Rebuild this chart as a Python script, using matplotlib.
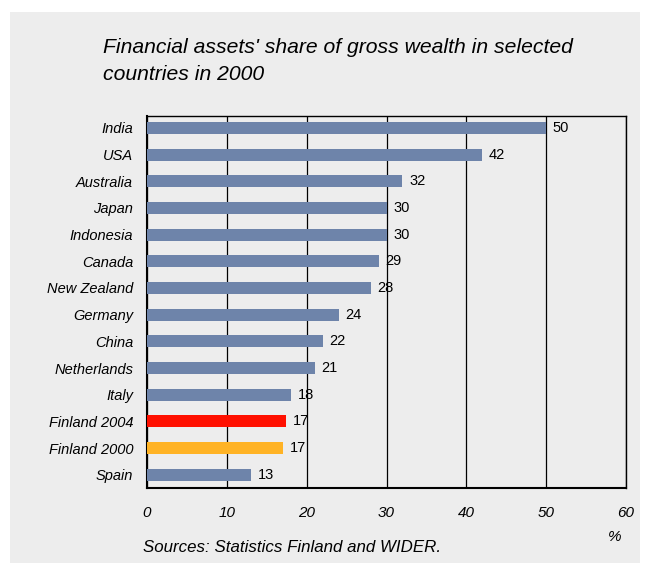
import matplotlib.pyplot as plt
from matplotlib.patches import Rectangle

countries = ['India', 'USA', 'Australia', 'Japan', 'Indonesia', 'Canada', 'New Zealand',
             'Germany', 'China', 'Netherlands', 'Italy', 'Finland 2004', 'Finland 2000', 'Spain']
values = [50, 42, 32, 30, 30, 29, 28, 24, 22, 21, 18, 17.4, 17.0, 13]
labels = ['50', '42', '32', '30', '30', '29', '28', '24', '22', '21', '18', '17', '17', '13']
colors = ['#6e84aa'] * 11 + ['#ff1000', '#ffb325', '#6e84aa']
ticks = [0, 10, 20, 30, 40, 50, 60]

plt.rcParams['font.family'] = ['Liberation Sans', 'DejaVu Sans']

fig = plt.figure(figsize=(6.54, 5.65), dpi=100)
fig.patches.append(Rectangle((10 / 654, 2 / 565), 630 / 654, 551 / 565,
                             transform=fig.transFigure, facecolor='#ededed',
                             edgecolor='none', zorder=-5))

ax = fig.add_axes([147 / 654, 1 - 488 / 565, 479 / 654, 372 / 565])
ax.set_facecolor('none')
y = list(range(len(countries)))
ax.barh(y, values, height=0.45, color=colors, zorder=3)
for yi, v, lab in zip(y, values, labels):
    ax.text(v + 0.85, yi, lab, va='center', ha='left', fontsize=10.5, zorder=4)

ax.set_xlim(0, 60)
ax.set_ylim(13.5, -0.45)
ax.set_yticks(y)
ax.set_yticklabels(countries, fontsize=10.5, style='italic')
ax.set_xticks(ticks)
ax.set_xticklabels([str(t) for t in ticks], fontsize=11, style='italic')
ax.tick_params(length=0)
ax.tick_params(axis='x', pad=13)
ax.tick_params(axis='y', pad=10)
ax.grid(axis='x', color='black', linewidth=0.9, zorder=1)
for s in ax.spines.values():
    s.set_linewidth(1.0)
    s.set_color('black')
ax.spines['left'].set_linewidth(1.5)
ax.spines['bottom'].set_linewidth(1.5)

fig.text(103 / 654, 1 - 38 / 565, "Financial assets' share of gross wealth in selected\ncountries in 2000",
         fontsize=15.2, style='italic', va='top', ha='left', linespacing=1.5)
fig.text(615 / 654, 1 - 537 / 565, '%', fontsize=11, style='italic', ha='center', va='center')
fig.text(143 / 654, 1 - 548 / 565, 'Sources: Statistics Finland and WIDER.', fontsize=12.2,
         style='italic', ha='left', va='center')

fig.savefig('out.png', dpi=100)
